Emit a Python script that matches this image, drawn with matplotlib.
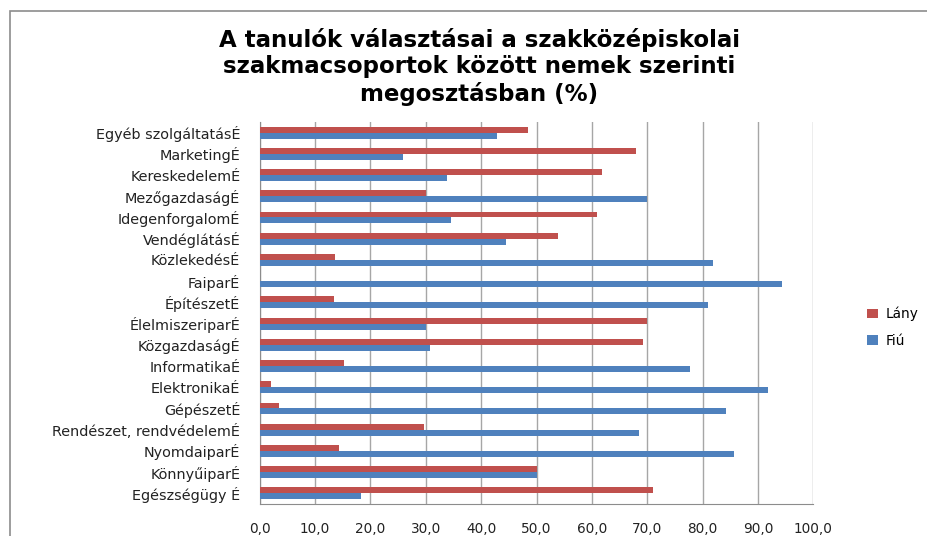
import matplotlib.pyplot as plt
import matplotlib.patches as mpatches
import numpy as np

# data (top to bottom, as shown in the chart)
categories = ['Egyéb szolgáltatásÉ', 'MarketingÉ', 'KereskedelemÉ', 'MezőgazdaságÉ',
              'IdegenforgalomÉ', 'VendéglátásÉ', 'KözlekedésÉ', 'FaiparÉ', 'ÉpítészetÉ',
              'ÉlelmiszeriparÉ', 'KözgazdaságÉ', 'InformatikaÉ', 'ElektronikaÉ',
              'GépészetÉ', 'Rendészet, rendvédelemÉ', 'NyomdaiparÉ', 'KönnyűiparÉ',
              'Egészségügy É']
lany = [48.5, 68.0, 61.9, 30.0, 60.9, 53.8, 13.6, 0.0, 13.4,
        70.0, 69.2, 15.3, 2.0, 3.5, 29.6, 14.3, 50.0, 71.0]
fiu = [42.9, 25.9, 33.9, 70.0, 34.6, 44.4, 81.9, 94.3, 80.9,
       30.0, 30.8, 77.8, 91.9, 84.2, 68.5, 85.7, 50.0, 18.3]
xticks = np.arange(0, 101, 10)

red = '#C0504D'
blue = '#4F81BD'

fig = plt.figure(figsize=(9.27, 5.36), dpi=100)
ax = fig.add_axes([0.2802, 0.0597, 0.5971, 0.7127])

# outer chart frame (cut off at right and bottom)
fig.patches.append(mpatches.Rectangle((10 / 927, -0.05), 1.0, 1 - 11 / 536 + 0.05,
                                      transform=fig.transFigure, fill=False,
                                      edgecolor='#8c8c8c', linewidth=1.2))

y = np.arange(len(categories))
h = 0.28
ax.barh(y - h / 2, lany, height=h, color=red, label='Lány', zorder=3)
ax.barh(y + h / 2, fiu, height=h, color=blue, label='Fiú', zorder=3)

ax.set_ylim(len(categories) - 0.5, -0.5)
ax.set_xlim(0, 100)
ax.set_yticks(y)
ax.set_yticklabels(categories, fontsize=10.4, color='#222222')
ax.set_xticks(xticks)
ax.set_xticklabels([f'{v:.1f}'.replace('.', ',') for v in xticks], fontsize=9.8, color='#222222')
ax.tick_params(axis='y', length=0, pad=14)
ax.tick_params(axis='x', length=0, pad=13)
ax.grid(axis='x', color='#a6a6a6', linewidth=1.0, zorder=0)
for s in ['top', 'right']:
    ax.spines[s].set_visible(False)
for s in ['left', 'bottom']:
    ax.spines[s].set_color('#8c8c8c')

fig.text(0.517, 0.948, 'A tanulók választásai a szakközépiskolai\nszakmacsoportok között nemek szerinti\nmegosztásban (%)',
         ha='center', va='top', fontsize=16.5, fontweight='bold', linespacing=1.2)

ax.legend(loc='center left', bbox_to_anchor=(1.075, 0.463), frameon=False, fontsize=9.8,
          handlelength=0.8, handleheight=0.7, labelspacing=0.9, handletextpad=0.6)

fig.savefig('out.png', dpi=100)
